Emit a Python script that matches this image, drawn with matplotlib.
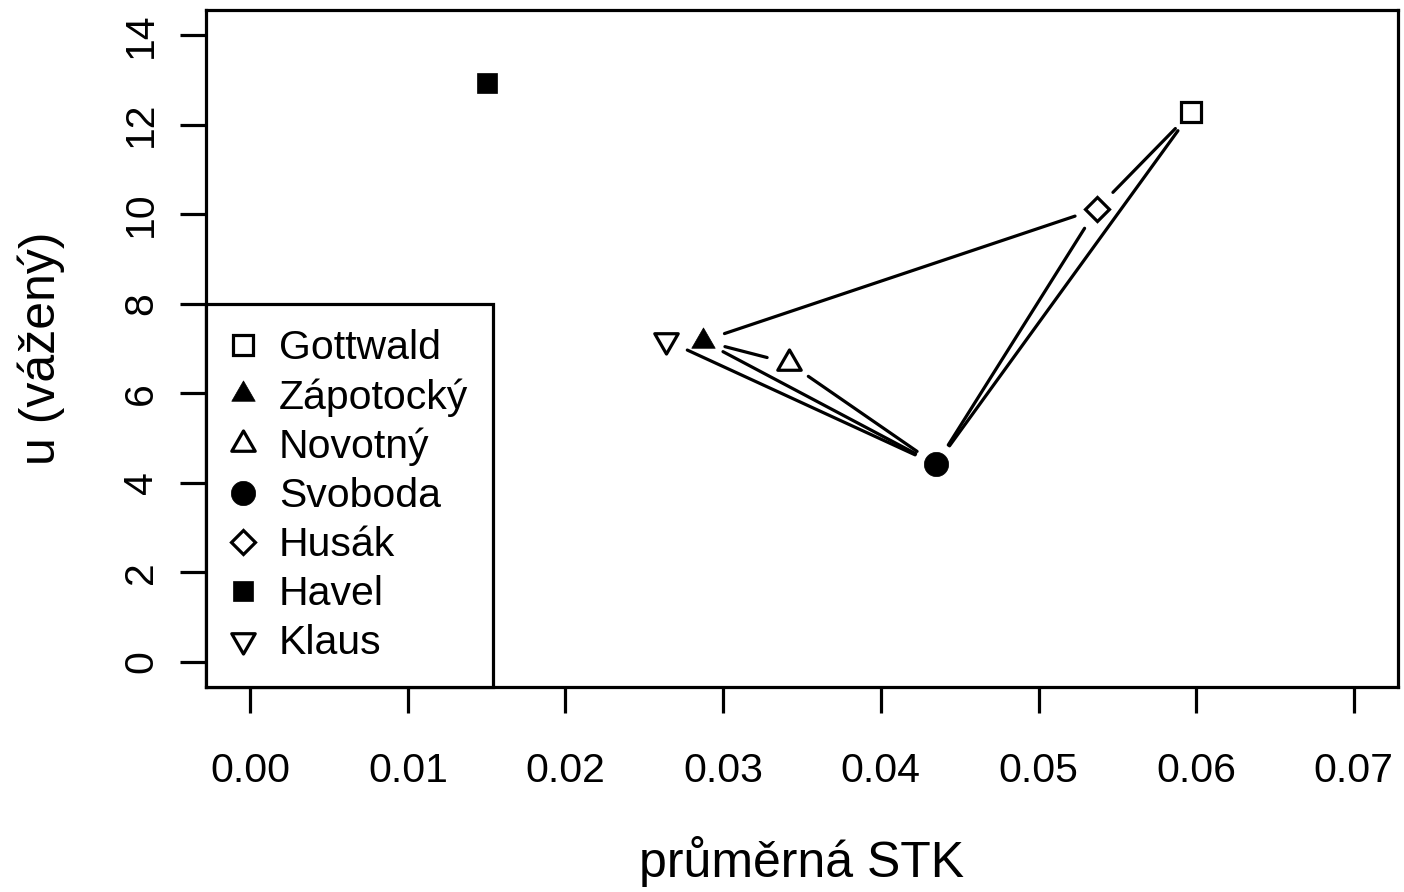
import matplotlib
matplotlib.use("Agg")
import matplotlib.pyplot as plt
import numpy as np
from matplotlib.path import Path
from matplotlib.lines import Line2D

plt.rcParams['font.family'] = ['Liberation Sans', 'DejaVu Sans']

# ---- data ----
names = ["Gottwald", "Zápotocký", "Novotný", "Svoboda", "Husák", "Havel", "Klaus"]
stk = [0.0597, 0.0287, 0.0342, 0.0435, 0.0537, 0.0150, 0.0264]
u_vazeny = [12.28, 7.17, 6.67, 4.41, 10.12, 12.93, 7.18]
links = [("Klaus", "Svoboda"), ("Zápotocký", "Svoboda"), ("Zápotocký", "Novotný"),
         ("Novotný", "Svoboda"), ("Zápotocký", "Husák"), ("Husák", "Gottwald"),
         ("Gottwald", "Svoboda"), ("Husák", "Svoboda")]
x_ticks = [0.00, 0.01, 0.02, 0.03, 0.04, 0.05, 0.06, 0.07]
y_ticks = [0, 2, 4, 6, 8, 10, 12, 14]
x_label = "průměrná STK"
y_label = "u (vážený)"

# ---- styles ----
tri_up = Path([(0, 1), (-0.866, -0.5), (0.866, -0.5), (0, 1)],
              [Path.MOVETO, Path.LINETO, Path.LINETO, Path.CLOSEPOLY])
tri_dn = Path([(0, -1), (-0.866, 0.5), (0.866, 0.5), (0, -1)],
              [Path.MOVETO, Path.LINETO, Path.LINETO, Path.CLOSEPOLY])
EW = 2.3
styles = {
    "Gottwald": dict(marker='s', ms=14.6, mfc='white', mec='black', mew=EW),
    "Zápotocký": dict(marker=tri_up, ms=19.5, mfc='black', mec='black', mew=0.5),
    "Novotný": dict(marker=tri_up, ms=19.5, mfc='white', mec='black', mew=EW),
    "Svoboda": dict(marker='o', ms=17.5, mfc='black', mec='black', mew=0.5),
    "Husák": dict(marker='D', ms=12.4, mfc='white', mec='black', mew=EW),
    "Havel": dict(marker='s', ms=13.7, mfc='black', mec='black', mew=0.5),
    "Klaus": dict(marker=tri_dn, ms=19.5, mfc='white', mec='black', mew=EW),
}

W, H = 1404, 892
fig = plt.figure(figsize=(W / 100, H / 100), dpi=100)
ax = fig.add_axes([206 / W, (H - 687) / H, (1398 - 206) / W, (687 - 10) / H])
ax.set_xlim(-0.0028, 0.0728)
ax.set_ylim(-0.56, 14.56)

for s in ax.spines.values():
    s.set_linewidth(2.3)
    s.set_color('black')

# connecting segments with gaps around the points
pos = {n: (x, y) for n, x, y in zip(names, stk, u_vazeny)}
gap_px = 23
inv = ax.transData.inverted()
for a, b in links:
    pa = ax.transData.transform(pos[a])
    pb = ax.transData.transform(pos[b])
    d = pb - pa
    L = np.hypot(*d)
    ua = d / L
    p1 = pa + ua * gap_px
    p2 = pb - ua * gap_px
    q = inv.transform(np.array([p1, p2]))
    ax.plot(q[:, 0], q[:, 1], color='black', lw=2.3, solid_capstyle='round', zorder=2)

handles = []
for n, x, y in zip(names, stk, u_vazeny):
    ax.plot([x], [y], linestyle='none', zorder=3, **styles[n])
    handles.append(Line2D([], [], linestyle='none', **styles[n]))

ax.set_xticks(x_ticks)
ax.set_xticklabels([f"{v:.2f}" for v in x_ticks])
ax.set_yticks(y_ticks)
ax.set_yticklabels([str(v) for v in y_ticks])
ax.tick_params(axis='both', direction='out', length=19, width=2.3, labelsize=29.5, color='black')
ax.tick_params(axis='x', pad=27.5)
ax.tick_params(axis='y', pad=14, labelrotation=90)
for lab in ax.get_yticklabels():
    lab.set_va('center')

ax.set_xlabel(x_label, fontsize=36)
ax.xaxis.label.set_va('baseline')
ax.xaxis.set_label_coords(802 / W, 1 - 877 / H, transform=fig.transFigure)
ax.set_ylabel(y_label, fontsize=36)
ax.yaxis.label.set_rotation_mode('anchor')
ax.yaxis.label.set_va('baseline')
ax.yaxis.label.set_ha('center')
ax.yaxis.set_label_coords(55 / W, 1 - 348 / H, transform=fig.transFigure)

leg = ax.legend(handles, names, loc='lower left', bbox_to_anchor=(0, 0), borderaxespad=0,
                frameon=True, fancybox=False, edgecolor='black', framealpha=1,
                fontsize=29.5, handlelength=0.6, handletextpad=0.58, borderpad=0.6,
                labelspacing=0.27, numpoints=1)
leg.get_frame().set_linewidth(2.3)

fig.savefig("out.png", dpi=100, facecolor='white')
